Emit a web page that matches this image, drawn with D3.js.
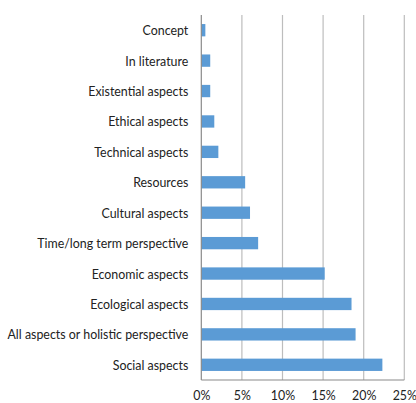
<!DOCTYPE html>
<html><head><meta charset="utf-8">
<script src="https://cdn.jsdelivr.net/npm/d3@7"></script>
<style>
html,body{margin:0;padding:0;background:#fff;}
svg{display:block;}
text{font-family:Lato,"Open Sans",sans-serif;font-size:12.4px;fill:#222;}
</style></head>
<body>
<svg id="c" width="416" height="403"></svg>
<script>
const categories = ["Concept","In literature","Existential aspects","Ethical aspects","Technical aspects","Resources","Cultural aspects","Time/long term perspective","Economic aspects","Ecological aspects","All aspects or holistic perspective","Social aspects"];
const values = [0.005,0.011,0.011,0.016,0.021,0.054,0.060,0.070,0.152,0.185,0.190,0.223];
const xTicks = [0,0.05,0.10,0.15,0.20,0.25];

const margin = {left:201.3, right:11.7, top:15, bottom:23};
const W = 416, H = 403;
const svg = d3.select("#c");
const x = d3.scaleLinear().domain([0,0.25]).range([margin.left, W-margin.right]);
const y = d3.scaleBand().domain(categories).range([margin.top, H-margin.bottom]).paddingInner(0.595).paddingOuter(0.2975);

// gridlines
svg.append("g").selectAll("line").data(xTicks.slice(1)).join("line")
  .attr("x1",d=>x(d)).attr("x2",d=>x(d))
  .attr("y1",margin.top).attr("y2",H-margin.bottom)
  .attr("stroke","#bdbdbd").attr("stroke-width",1.2);

// bars
svg.append("g").selectAll("rect").data(categories).join("rect")
  .attr("x",x(0)).attr("y",d=>y(d))
  .attr("width",(d,i)=>x(values[i])-x(0))
  .attr("height",y.bandwidth())
  .attr("fill","#5b9bd5");

// axes lines
svg.append("line").attr("x1",x(0)).attr("x2",x(0)).attr("y1",margin.top).attr("y2",H-margin.bottom)
  .attr("stroke","#8a8a8a").attr("stroke-width",1.2);
svg.append("line").attr("x1",x(0)).attr("x2",x(0.25)).attr("y1",H-margin.bottom).attr("y2",H-margin.bottom)
  .attr("stroke","#8a8a8a").attr("stroke-width",1.2);

// x axis
const xa = svg.append("g").attr("transform",`translate(0,${H-margin.bottom})`)
  .call(d3.axisBottom(x).tickValues(xTicks).tickFormat(d3.format(".0%")).tickSize(0).tickPadding(11));
xa.select(".domain").remove();
xa.selectAll("text").style("font-size","12.4px").attr("fill","#222");

// y axis
const ya = svg.append("g").attr("transform",`translate(${x(0)},0)`)
  .call(d3.axisLeft(y).tickSize(0).tickPadding(13));
ya.select(".domain").remove();
ya.selectAll("text").style("font-size","12.4px").attr("fill","#222").attr("dy","0.4em");
</script>
</body></html>
